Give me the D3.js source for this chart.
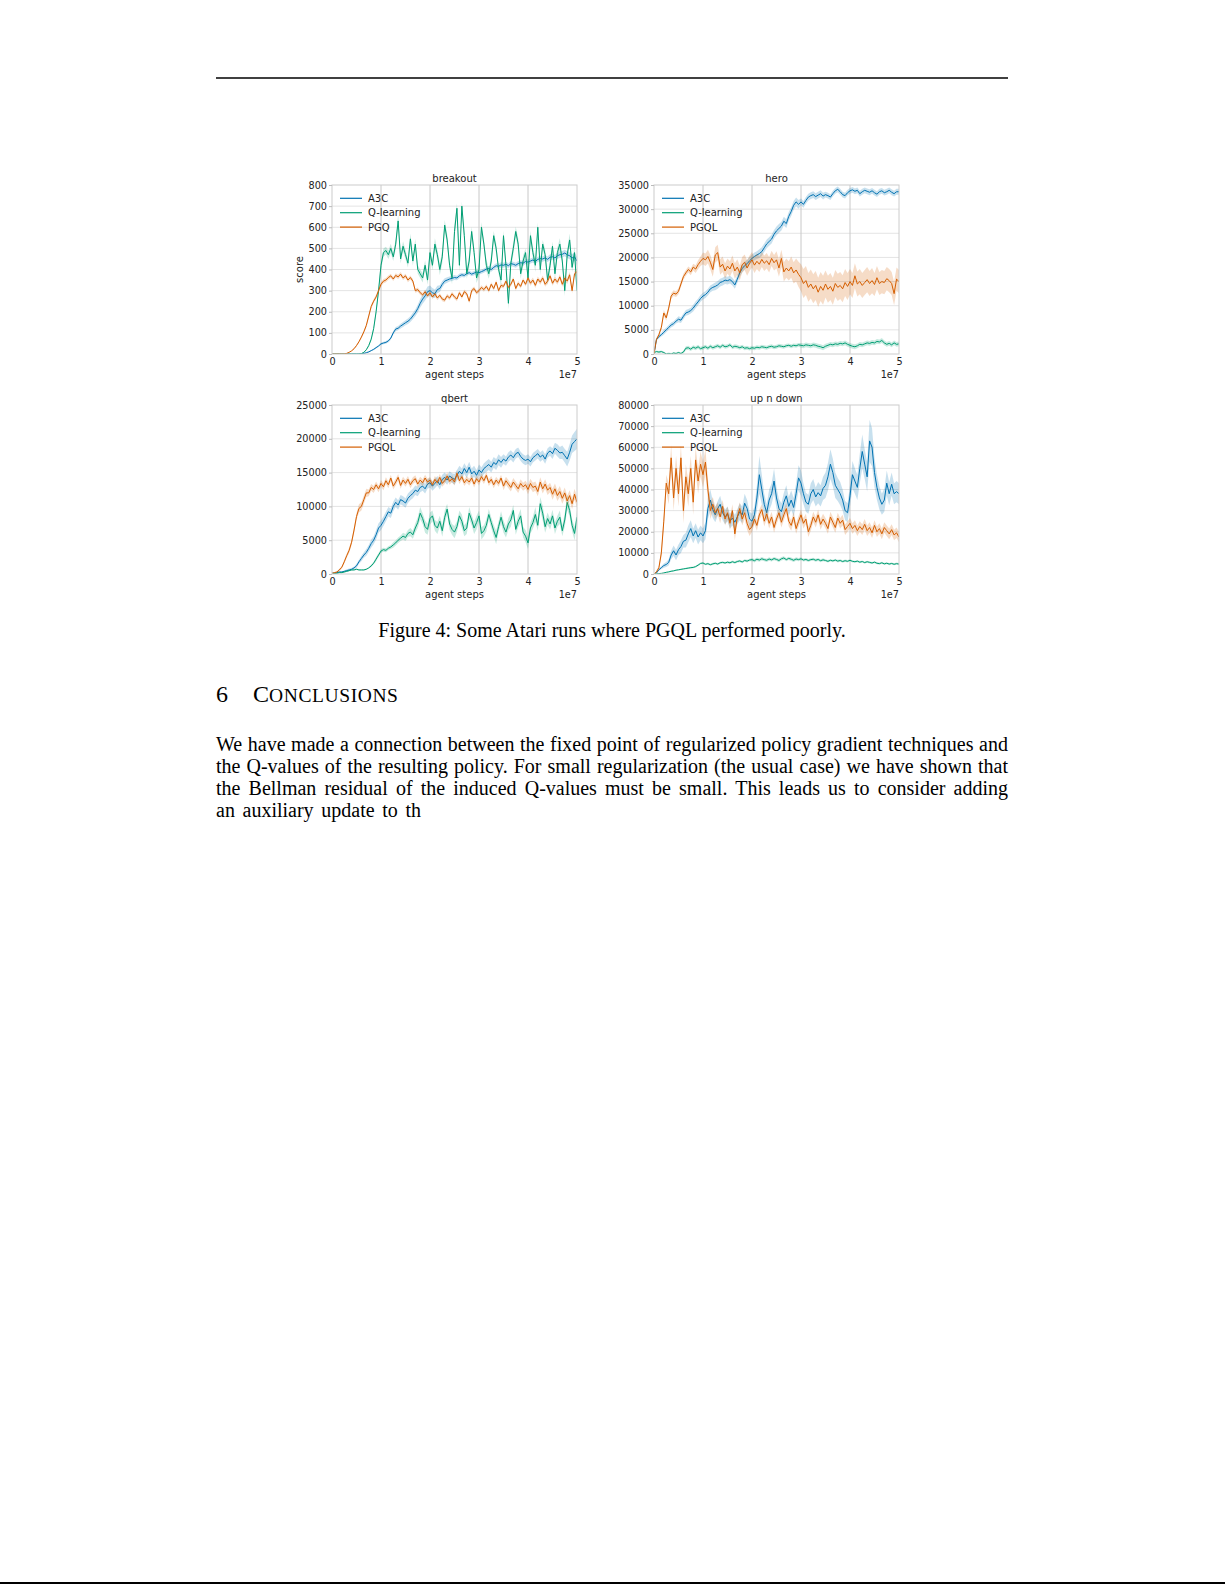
<!DOCTYPE html>
<html>
<head>
<meta charset="utf-8">
<script src="https://cdn.jsdelivr.net/npm/d3@7/dist/d3.min.js"></script>
<style>
  body { margin: 0; background: #fff; }
  #wrapper { width: 1225px; height: 1585px; }
</style>
</head>
<body>
<div id="wrapper"></div>
<script>
// agent steps in units of 1e7 (one sample every 5e5 steps)
const agentSteps = [
  0,0.05,0.1,0.15,0.2,0.25,0.3,0.35,0.4,0.45,
  0.5,0.55,0.6,0.65,0.7,0.75,0.8,0.85,0.9,0.95,
  1,1.05,1.1,1.15,1.2,1.25,1.3,1.35,1.4,1.45,
  1.5,1.55,1.6,1.65,1.7,1.75,1.8,1.85,1.9,1.95,
  2,2.05,2.1,2.15,2.2,2.25,2.3,2.35,2.4,2.45,
  2.5,2.55,2.6,2.65,2.7,2.75,2.8,2.85,2.9,2.95,
  3,3.05,3.1,3.15,3.2,3.25,3.3,3.35,3.4,3.45,
  3.5,3.55,3.6,3.65,3.7,3.75,3.8,3.85,3.9,3.95,
  4,4.05,4.1,4.15,4.2,4.25,4.3,4.35,4.4,4.45,
  4.5,4.55,4.6,4.65,4.7,4.75,4.8,4.85,4.9,4.95,
  5]
const xTicks = [0, 1, 2, 3, 4, 5]

// ---- breakout (score) ----
const breakoutTicks = [0,100,200,300,400,500,600,700,800]
const breakoutA3C = [
  0,0,0,0,0,0,0,0,0,0,
  0,0,1,3,6,10,16,22,30,38,
  48,52,55,62,75,100,118,122,132,140,
  148,155,165,180,195,215,240,260,275,295,
  300,290,285,305,310,330,345,350,355,358,
  362,360,370,375,372,380,385,378,383,388,
  385,390,395,402,405,400,410,418,415,422,
  420,425,418,428,425,420,428,432,430,438,
  435,440,445,438,448,452,450,455,448,458,
  460,455,465,470,472,478,470,465,455,460,
  440]
const breakoutA3CBand = [
  0,0,0,0,0,0,0,0,0,0,
  0,0,1,2,2,3,3,4,4,5,
  5,6,6,7,8,9,10,10,11,12,
  12,13,14,15,16,18,20,22,22,24,
  24,22,20,18,16,15,14,13,12,12,
  12,11,11,10,10,10,10,10,10,10,
  10,10,10,10,11,11,11,12,12,12,
  12,12,12,12,12,12,12,12,12,12,
  12,12,12,12,12,13,13,13,13,14,
  14,14,14,15,15,15,16,16,18,20,
  22]
const breakoutQ = [
  0,0,0,0,0,0,0,0,0,0,
  0,0,2,8,20,40,70,120,200,300,
  420,480,490,470,500,460,520,630,450,510,
  470,430,545,440,520,400,380,360,420,350,
  480,420,520,470,400,460,610,540,420,360,
  580,690,420,700,560,380,440,580,480,360,
  400,600,520,420,380,440,560,500,400,350,
  560,420,240,430,500,580,520,380,440,480,
  360,560,480,420,600,400,520,470,350,420,
  510,380,480,520,440,300,470,540,410,480,
  300]
const breakoutQBand = [
  0,0,0,0,0,0,0,0,0,0,
  0,0,1,2,4,6,8,10,14,18,
  22,20,18,20,22,20,24,30,22,24,
  22,20,26,22,24,20,20,22,24,22,
  26,24,28,24,26,32,24,28,22,30,
  36,24,38,22,30,24,30,22,26,24,
  32,24,22,28,24,30,22,26,20,30,
  24,20,28,24,30,22,28,24,26,20,
  30,24,26,32,22,28,20,26,24,28,
  22,26,24,28,20,26,24,30,22,28,
  26]
const breakoutPGQ = [
  0,0,0,0,0,0,3,8,15,25,
  40,58,80,105,135,180,225,250,270,300,
  330,345,350,362,370,355,372,365,378,360,
  370,350,362,345,300,305,290,280,295,275,
  290,270,285,265,278,260,255,275,265,285,
  270,260,290,270,295,285,250,300,310,290,
  300,315,305,320,300,330,310,340,300,325,
  320,345,315,330,355,310,335,320,350,330,
  360,335,350,325,355,340,360,330,345,370,
  335,355,340,365,330,360,345,375,300,380,
  390]
const breakoutPGQBand = [
  0,0,0,0,0,0,1,1,2,3,
  4,5,6,7,8,9,10,10,10,10,
  10,10,10,10,10,10,10,10,10,10,
  10,10,10,10,10,10,10,10,10,10,
  10,10,10,10,10,10,10,10,10,10,
  10,10,10,10,10,10,10,10,10,10,
  10,10,10,10,10,10,10,10,10,10,
  10,10,10,10,10,10,10,10,10,10,
  12,12,12,12,12,12,12,12,12,12,
  12,12,12,12,12,14,14,14,14,14,
  14]

// ---- hero (thousands) ----
const heroTicks = [0,5000,10000,15000,20000,25000,30000,35000]
const heroA3C = [
  0,3.0,3.6,4.0,4.5,5.0,5.5,6.0,6.3,6.8,
  7.2,7.0,7.8,8.5,8.7,9.0,9.5,10.2,10.8,11.5,
  12.0,12.3,12.8,13.5,13.8,14.0,14.3,14.8,15.0,15.3,
  15.2,15.4,15.0,14.3,15.5,16.8,17.7,18.3,18.7,19.3,
  19.8,20.2,20.5,20.8,21.2,22.0,22.8,23.3,23.8,24.8,
  25.5,26.0,26.5,27.5,27.0,28.5,29.5,30.8,31.5,31.0,
  31.5,31.0,31.8,32.5,32.8,33.0,32.6,32.9,33.2,32.7,
  33.0,32.8,32.5,33.2,33.8,34.1,33.6,33.0,32.8,33.4,
  33.8,34.0,33.7,33.9,33.2,33.6,33.9,33.7,33.5,33.8,
  33.4,33.1,33.6,33.8,33.4,33.6,33.9,33.5,33.2,33.6,
  33.6]
const heroA3CBand = [
  0,0.3,0.4,0.4,0.5,0.5,0.5,0.5,0.5,0.5,
  0.6,0.6,0.6,0.6,0.6,0.6,0.7,0.7,0.7,0.7,
  0.7,0.7,0.7,0.7,0.7,0.8,0.8,0.8,0.8,0.8,
  0.8,0.8,0.8,0.8,0.8,0.8,0.8,0.8,0.8,0.8,
  0.8,0.8,0.8,0.9,0.9,0.9,0.9,0.9,0.9,0.9,
  0.9,0.9,0.9,0.9,0.9,0.9,0.9,0.9,0.9,0.9,
  0.7,0.7,0.7,0.7,0.7,0.7,0.7,0.7,0.7,0.7,
  0.6,0.6,0.6,0.6,0.6,0.6,0.6,0.6,0.6,0.6,
  0.6,0.6,0.6,0.6,0.6,0.6,0.6,0.6,0.6,0.6,
  0.6,0.6,0.6,0.6,0.6,0.6,0.6,0.6,0.6,0.6,
  0.6]
const heroQ = [
  0.3,0.5,0.4,0.5,0.3,0.0,0.1,0.0,0.2,0.1,
  0.3,0.1,0.4,1.2,1.3,1.0,1.4,1.2,1.5,1.1,
  1.3,1.5,1.2,1.6,1.3,1.5,1.7,1.4,1.8,1.5,
  1.6,1.9,1.4,1.6,1.5,1.3,1.5,1.2,1.3,1.1,
  1.3,1.2,1.4,1.3,1.5,1.4,1.3,1.5,1.6,1.4,
  1.5,1.7,1.6,1.5,1.7,1.8,1.6,1.8,1.7,1.9,
  1.8,1.7,1.9,1.8,1.7,1.9,1.8,1.6,1.5,1.3,
  1.6,1.8,2.0,1.9,2.1,2.0,2.2,2.1,2.3,2.0,
  1.8,1.6,1.5,1.7,2.0,1.9,2.1,2.3,2.2,2.4,
  2.3,2.6,2.5,2.8,2.3,2.0,2.2,1.9,2.3,2.0,
  2.1]
const heroQBand = [
  0.1,0.2,0.2,0.2,0.2,0.2,0.2,0.2,0.2,0.2,
  0.2,0.2,0.3,0.4,0.4,0.4,0.4,0.4,0.4,0.4,
  0.4,0.4,0.4,0.4,0.4,0.4,0.4,0.4,0.4,0.4,
  0.4,0.4,0.4,0.4,0.4,0.4,0.4,0.4,0.4,0.4,
  0.4,0.4,0.4,0.4,0.4,0.4,0.4,0.4,0.4,0.4,
  0.4,0.4,0.4,0.4,0.4,0.4,0.4,0.4,0.4,0.4,
  0.5,0.5,0.5,0.5,0.5,0.5,0.5,0.5,0.5,0.5,
  0.5,0.5,0.5,0.5,0.5,0.5,0.5,0.5,0.5,0.5,
  0.5,0.5,0.5,0.5,0.5,0.5,0.5,0.5,0.5,0.5,
  0.5,0.5,0.5,0.5,0.5,0.5,0.5,0.5,0.5,0.5,
  0.5]
const heroPGQL = [
  0,3.0,4.0,5.5,8.5,7.5,9.5,12.0,12.6,12.4,
  13.0,14.5,16.0,16.8,17.5,17.0,18.0,17.6,18.5,19.2,
  19.8,19.5,20.2,19.0,17.5,20.5,21.0,18.0,18.6,17.2,
  18.2,17.6,18.8,17.2,18.0,16.8,18.5,19.0,17.8,18.8,
  19.5,18.4,19.2,18.6,19.6,18.8,19.3,18.5,19.8,18.9,
  19.5,17.8,19.8,17.0,17.8,17.2,18.0,16.8,17.4,16.5,
  15.8,14.6,15.2,13.8,14.5,13.5,14.2,12.8,14.0,13.2,
  14.5,13.4,14.0,13.0,14.6,13.8,14.2,13.5,14.8,14.0,
  15.0,14.2,16.2,14.5,15.0,14.2,14.8,15.4,14.6,15.2,
  14.4,15.8,14.6,15.0,14.8,15.6,15.2,14.6,12.5,15.5,
  15.0]
const heroPGQLBand = [
  0,0.3,0.4,0.5,0.6,0.6,0.6,0.6,0.6,0.6,
  0.6,0.6,0.6,0.6,0.6,0.7,0.7,0.8,0.9,1.0,
  1.2,1.3,1.4,1.5,1.5,1.6,1.6,1.6,1.6,1.6,
  1.6,1.6,1.6,1.6,1.6,1.6,1.6,1.6,1.6,1.6,
  1.6,1.6,1.6,1.6,1.6,1.6,1.6,1.6,1.6,1.6,
  1.8,1.8,1.8,2.0,2.0,2.0,2.2,2.2,2.4,2.6,
  2.8,3.0,3.0,3.0,3.0,3.0,3.0,3.0,3.0,3.0,
  2.8,2.8,2.8,2.8,2.8,2.8,2.8,2.8,2.8,2.8,
  2.6,2.6,2.6,2.6,2.6,2.6,2.6,2.6,2.6,2.6,
  2.4,2.4,2.4,2.4,2.4,2.4,2.4,2.4,2.4,2.4,
  2.4]

// ---- qbert (thousands) ----
const qbertTicks = [0,5000,10000,15000,20000,25000]
const qbertA3C = [
  0.1,0.1,0.2,0.3,0.3,0.4,0.5,0.6,0.7,0.9,
  1.2,1.8,2.3,2.8,3.2,3.8,4.5,5.0,5.8,6.8,
  7.2,7.8,8.5,9.2,9.0,10.0,10.6,10.2,11.0,10.8,
  10.5,11.2,11.6,11.9,12.4,12.2,12.8,13.0,12.6,13.3,
  13.5,13.0,13.4,13.8,13.2,14.0,14.3,13.9,14.5,14.2,
  14.0,14.6,15.2,14.8,15.6,15.0,15.8,14.8,15.2,14.6,
  15.4,15.0,15.6,15.9,16.2,15.8,16.5,16.2,16.9,16.5,
  17.0,16.7,17.3,17.6,17.2,17.8,18.0,17.4,17.0,16.8,
  17.0,16.6,17.2,17.5,17.8,17.3,17.6,17.0,17.9,18.2,
  17.8,18.6,18.3,17.9,18.0,17.5,17.0,18.0,19.2,19.6,
  20.0]
const qbertA3CBand = [
  0.1,0.1,0.1,0.1,0.1,0.1,0.2,0.2,0.2,0.2,
  0.3,0.3,0.4,0.4,0.5,0.5,0.6,0.6,0.7,0.7,
  0.7,0.7,0.7,0.7,0.7,0.7,0.7,0.7,0.7,0.7,
  0.7,0.7,0.7,0.7,0.7,0.7,0.7,0.7,0.7,0.7,
  0.7,0.7,0.7,0.7,0.7,0.7,0.7,0.7,0.7,0.7,
  0.8,0.8,0.8,0.8,0.8,0.8,0.8,0.8,0.8,0.8,
  0.8,0.8,0.8,0.8,0.8,0.8,0.8,0.8,0.8,0.8,
  0.7,0.7,0.7,0.7,0.7,0.7,0.7,0.7,0.7,0.7,
  0.7,0.7,0.7,0.7,0.7,0.7,0.7,0.7,0.7,0.7,
  0.8,0.8,0.9,0.9,1.0,1.0,1.1,1.2,1.3,1.4,
  1.5]
const qbertQ = [
  0.1,0.1,0.1,0.2,0.2,0.3,0.4,0.5,0.6,0.6,
  0.7,0.6,0.6,0.6,0.7,0.9,1.2,1.6,2.2,2.8,
  3.4,3.6,3.5,3.8,4.0,4.3,4.6,5.0,5.3,5.6,
  5.4,6.0,6.2,5.8,6.8,7.6,9.0,8.2,7.0,6.6,
  8.2,8.6,7.2,6.8,7.8,6.4,8.4,9.6,7.4,6.6,
  6.2,7.0,8.6,7.8,6.4,6.8,9.0,8.0,6.8,7.6,
  8.6,6.0,6.4,7.2,8.8,7.6,6.4,5.4,7.0,8.4,
  7.0,6.2,7.4,8.0,9.4,6.6,7.8,8.6,6.2,5.6,
  4.6,6.8,7.6,8.8,7.2,10.4,9.0,7.0,8.2,7.4,
  8.6,6.8,7.8,8.4,6.4,8.0,10.6,9.4,7.2,6.0,
  8.4]
const qbertQBand = [
  0.1,0.1,0.1,0.1,0.1,0.1,0.1,0.1,0.1,0.1,
  0.1,0.1,0.1,0.1,0.1,0.1,0.2,0.2,0.3,0.3,
  0.3,0.3,0.3,0.3,0.3,0.4,0.4,0.4,0.4,0.5,
  0.5,0.5,0.6,0.6,0.7,0.8,0.9,0.8,0.9,0.8,
  0.9,0.8,0.8,0.9,0.8,0.9,1.0,0.8,0.9,0.8,
  0.9,0.8,0.8,1.0,0.8,0.9,0.9,0.8,0.9,1.0,
  0.8,0.9,0.8,0.9,0.8,0.8,0.9,1.0,0.8,0.9,
  0.9,0.8,0.9,1.0,0.8,0.8,0.9,1.0,0.8,0.9,
  0.9,0.8,0.9,1.1,0.8,1.0,1.1,0.9,0.9,0.8,
  0.9,0.9,0.8,1.0,0.8,1.0,1.1,0.9,0.9,1.0,
  1.0]
const qbertPGQL = [
  0.1,0.2,0.3,0.6,1.0,1.8,2.7,3.5,4.7,6.5,
  8.5,9.7,10.0,11.0,12.0,12.0,12.8,12.5,13.2,12.6,
  13.4,12.9,13.8,13.2,14.2,13.0,13.6,14.3,13.1,13.9,
  13.4,14.0,13.2,13.8,14.1,13.3,13.9,13.5,14.2,13.6,
  13.9,13.2,14.0,13.5,14.3,13.4,13.8,14.5,13.7,14.1,
  13.6,14.9,13.8,14.4,13.5,14.0,13.6,14.2,13.3,14.1,
  13.6,14.4,13.8,14.6,13.5,14.0,13.2,13.9,13.4,14.2,
  13.0,13.8,13.3,12.8,13.6,13.1,12.6,13.4,12.9,13.2,
  12.5,13.4,12.8,13.0,12.2,13.6,12.6,13.3,12.4,12.8,
  11.8,12.6,11.6,12.2,11.2,12.0,10.8,11.6,10.4,11.8,
  10.6]
const qbertPGQLBand = [
  0.1,0.1,0.1,0.2,0.2,0.3,0.3,0.4,0.4,0.5,
  0.5,0.6,0.6,0.6,0.6,0.5,0.5,0.5,0.5,0.5,
  0.5,0.5,0.5,0.5,0.5,0.5,0.5,0.5,0.5,0.5,
  0.5,0.5,0.5,0.5,0.5,0.5,0.5,0.5,0.5,0.5,
  0.5,0.5,0.5,0.5,0.5,0.5,0.5,0.5,0.5,0.5,
  0.5,0.5,0.5,0.5,0.5,0.5,0.5,0.5,0.5,0.5,
  0.5,0.5,0.5,0.5,0.5,0.5,0.5,0.5,0.5,0.5,
  0.6,0.6,0.6,0.6,0.6,0.6,0.6,0.6,0.6,0.6,
  0.7,0.7,0.7,0.7,0.7,0.7,0.7,0.7,0.7,0.7,
  0.8,0.8,0.8,0.8,0.8,0.8,0.8,0.8,0.8,0.8,
  0.8]

// ---- up n down (thousands) ----
const updownTicks = [0,10000,20000,30000,40000,50000,60000,70000,80000]
const updownA3C = [
  0,0.5,2.0,3.0,4.0,4.5,5.5,9.0,11.0,9.0,
  11.5,13.0,15.5,16.0,19.0,21.5,18.0,20.5,17.5,19.5,
  18.0,20.5,31.0,35.0,30.5,28.0,31.0,33.0,29.0,27.0,
  28.5,25.0,26.5,24.5,27.0,29.5,28.0,33.5,31.0,26.0,
  25.0,28.0,36.0,47.0,40.0,33.0,29.0,35.0,38.0,44.0,
  36.0,31.0,29.5,34.0,37.0,32.0,35.0,31.5,38.0,45.5,
  43.0,38.0,34.0,33.0,38.0,40.0,36.5,38.5,37.0,40.5,
  42.0,46.0,52.0,48.0,42.0,40.0,38.0,35.0,30.0,29.0,
  37.0,47.0,44.0,41.0,50.0,58.0,52.0,46.0,63.0,60.0,
  48.0,41.0,36.0,33.0,35.0,43.0,38.0,42.5,38.0,39.0,
  38.0]
const updownA3CBand = [
  0,0.3,0.5,0.8,1.0,1.2,1.5,2.0,2.5,2.5,
  2.5,3.0,3.0,3.5,4.0,4.0,3.5,3.5,3.5,3.5,
  3.5,4.0,5.0,5.0,4.0,3.5,3.5,4.0,3.5,3.5,
  3.5,3.5,3.5,3.5,3.5,4.0,4.0,4.5,4.0,3.5,
  3.5,4.0,6.0,9.0,7.0,5.0,4.0,5.0,5.0,6.0,
  5.0,4.5,4.0,4.5,5.0,4.5,4.5,4.5,5.0,6.0,
  6.0,5.0,4.5,4.5,5.0,5.0,4.5,5.0,5.0,5.5,
  6.0,6.5,7.0,6.5,6.0,5.5,5.5,5.0,4.5,4.5,
  5.0,6.5,6.0,6.0,7.0,8.0,7.0,7.0,10.0,9.0,
  7.0,6.0,5.5,5.0,5.5,6.0,5.5,5.5,5.0,5.0,
  5.0]
const updownQ = [
  0,0.1,0.2,0.3,0.5,0.8,1.0,1.3,1.5,1.8,
  2.0,2.2,2.4,2.6,2.8,3.0,3.1,3.5,4.2,5.0,
  5.2,4.6,4.9,4.4,4.8,5.1,4.7,5.3,5.5,5.2,
  5.6,5.3,5.8,5.4,5.9,6.2,5.7,6.4,6.1,6.6,
  6.8,6.3,7.0,6.6,7.2,6.8,6.5,7.1,6.7,7.3,
  6.9,6.4,7.2,7.6,6.8,7.4,7.0,6.5,7.1,6.8,
  7.2,6.6,6.9,6.4,6.8,7.0,6.5,6.9,6.3,6.7,
  6.4,6.0,6.5,6.2,6.6,6.1,6.4,5.9,6.3,6.0,
  6.5,6.0,5.8,6.1,5.6,5.9,5.4,5.8,5.5,5.2,
  5.6,5.1,4.9,5.3,4.8,5.1,4.7,5.0,4.6,4.9,
  4.7]
const updownQBand = [
  0,0.1,0.1,0.1,0.2,0.2,0.2,0.3,0.3,0.3,
  0.3,0.3,0.3,0.4,0.4,0.4,0.4,0.4,0.5,0.5,
  0.5,0.5,0.5,0.5,0.5,0.5,0.5,0.5,0.5,0.5,
  0.6,0.6,0.6,0.6,0.6,0.6,0.6,0.6,0.6,0.6,
  0.8,0.8,0.8,0.8,0.8,0.8,0.8,0.8,0.8,0.8,
  0.8,0.8,0.8,0.8,0.8,0.8,0.8,0.8,0.8,0.8,
  0.7,0.7,0.7,0.7,0.7,0.7,0.7,0.7,0.7,0.7,
  0.6,0.6,0.6,0.6,0.6,0.6,0.6,0.6,0.6,0.6,
  0.5,0.5,0.5,0.5,0.5,0.5,0.5,0.5,0.5,0.5,
  0.5,0.5,0.5,0.5,0.5,0.5,0.5,0.5,0.5,0.5,
  0.5]
const updownPGQL = [
  0,1.0,3.0,10.0,25.0,43.0,38.0,55.0,36.0,50.0,
  38.0,55.0,30.0,46.0,38.0,50.0,34.0,54.0,44.0,52.0,
  47.0,53.0,40.0,30.0,33.0,29.0,31.0,27.0,32.0,26.0,
  29.0,24.0,30.0,19.0,27.0,31.0,26.0,29.0,24.0,21.0,
  22.5,26.0,23.0,28.0,30.5,25.0,28.5,24.0,27.0,22.0,
  26.0,29.0,24.5,28.0,31.0,25.0,23.0,27.0,21.5,25.0,
  28.0,24.0,26.0,20.0,23.0,27.0,24.5,28.0,23.5,26.0,
  24.0,21.5,27.0,24.5,22.0,26.5,24.0,25.5,21.0,22.5,
  24.0,21.5,23.0,20.5,22.5,21.0,23.5,20.5,22.0,19.5,
  23.0,20.0,21.5,19.0,22.0,20.5,19.0,21.0,18.5,19.5,
  17.5]
const updownPGQLBand = [
  0,0.5,1.0,2.0,3.0,4.0,5.0,6.0,6.0,6.0,
  6.0,6.0,6.0,6.0,6.0,6.0,6.0,6.0,6.0,6.0,
  6.0,6.0,5.0,4.0,3.5,3.0,3.0,3.0,3.0,3.0,
  3.0,3.0,3.0,3.0,3.0,3.0,3.0,3.0,3.0,3.0,
  2.5,2.5,2.5,2.5,2.5,2.5,2.5,2.5,2.5,2.5,
  2.5,2.5,2.5,2.5,2.5,2.5,2.5,2.5,2.5,2.5,
  2.5,2.5,2.5,2.5,2.5,2.5,2.5,2.5,2.5,2.5,
  2.5,2.5,2.5,2.5,2.5,2.5,2.5,2.5,2.5,2.5,
  2.5,2.5,2.5,2.5,2.5,2.5,2.5,2.5,2.5,2.5,
  2.5,2.5,2.5,2.5,2.5,2.5,2.5,2.5,2.5,2.5,
  2.5]

const paperLines = [
  "We have made a connection between the fixed point of regularized policy gradient techniques and",
  "the Q-values of the resulting policy.  For small regularization (the usual case) we have shown that",
  "the Bellman residual of the induced Q-values must be small.  This leads us to consider adding",
  "an auxiliary update to th"
]

// ---- layout ----
const colorOf = { "A3C": "#0072B2", "Q-learning": "#009E73", "PGQ": "#D55E00", "PGQL": "#D55E00" }
const panels = [
  { title: "breakout", left: 332, top: 185, unit: 1, yTicks: breakoutTicks, ylabel: "score",
    series: [["A3C", breakoutA3C, breakoutA3CBand], ["Q-learning", breakoutQ, breakoutQBand], ["PGQ", breakoutPGQ, breakoutPGQBand]] },
  { title: "hero", left: 654, top: 185, unit: 1000, yTicks: heroTicks,
    series: [["A3C", heroA3C, heroA3CBand], ["Q-learning", heroQ, heroQBand], ["PGQL", heroPGQL, heroPGQLBand]] },
  { title: "qbert", left: 332, top: 405, unit: 1000, yTicks: qbertTicks,
    series: [["A3C", qbertA3C, qbertA3CBand], ["Q-learning", qbertQ, qbertQBand], ["PGQL", qbertPGQL, qbertPGQLBand]] },
  { title: "up n down", left: 654, top: 405, unit: 1000, yTicks: updownTicks,
    series: [["A3C", updownA3C, updownA3CBand], ["Q-learning", updownQ, updownQBand], ["PGQL", updownPGQL, updownPGQLBand]] },
]

const wrapper = d3.select("#wrapper")
  .html("")
  .append("svg")
  .attr("width", 1225)
  .attr("height", 1585)
  .style("font-family", "'DejaVu Sans', sans-serif")

function drawPanel(p, k) {
  const dimensions = { width: 245, height: 169 }

  const bounds = wrapper.append("g")
    .attr("transform", `translate(${p.left},${p.top})`)

  const xScaler = d3.scaleLinear()
    .domain([0, 5])
    .range([0, dimensions.width])
  const yScaler = d3.scaleLinear()
    .domain([0, d3.max(p.yTicks)])
    .range([dimensions.height, 0])

  // grid
  bounds.append("g").selectAll("line")
    .data(p.yTicks.slice(1, -1))
    .enter().append("line")
    .attr("x1", 0).attr("x2", dimensions.width)
    .attr("y1", d => yScaler(d)).attr("y2", d => yScaler(d))
    .attr("stroke", "#e4e4e4").attr("stroke-width", 1)
  bounds.append("g").selectAll("line")
    .data(xTicks.slice(1, -1))
    .enter().append("line")
    .attr("x1", d => xScaler(d)).attr("x2", d => xScaler(d))
    .attr("y1", 0).attr("y2", dimensions.height)
    .attr("stroke", "#c8c8c8").attr("stroke-width", 1)

  const clipId = "clip" + k
  bounds.append("clipPath").attr("id", clipId)
    .append("rect").attr("width", dimensions.width).attr("height", dimensions.height)

  const plot = bounds.append("g").attr("clip-path", `url(#${clipId})`)

  p.series.forEach(([name, values, band]) => {
    const pts = agentSteps.map((x, i) => ({ x: x, y: values[i] * p.unit, b: band[i] * p.unit }))
    const area = d3.area()
      .x(d => xScaler(d.x))
      .y0(d => yScaler(Math.max(0, d.y - d.b)))
      .y1(d => yScaler(d.y + d.b))
    const line = d3.line()
      .x(d => xScaler(d.x))
      .y(d => yScaler(d.y))
    plot.append("path").datum(pts)
      .attr("d", area)
      .attr("fill", colorOf[name])
      .attr("fill-opacity", 0.22)
    plot.append("path").datum(pts)
      .attr("d", line)
      .attr("fill", "none")
      .attr("stroke", colorOf[name])
      .attr("stroke-width", 1)
      .attr("stroke-linejoin", "round")
  })

  // frame
  bounds.append("rect")
    .attr("width", dimensions.width).attr("height", dimensions.height)
    .attr("fill", "none").attr("stroke", "#cccccc").attr("stroke-width", 1)

  // axes
  const xAxis = bounds.append("g")
    .attr("transform", `translate(0,${dimensions.height})`)
    .call(d3.axisBottom(xScaler).tickValues(xTicks).tickSize(0).tickPadding(4).tickFormat(d3.format("d")))
  const yAxis = bounds.append("g")
    .call(d3.axisLeft(yScaler).tickValues(p.yTicks).tickSize(3).tickPadding(2).tickFormat(d3.format("d")))
  ;[xAxis, yAxis].forEach(ax => {
    ax.select(".domain").remove()
    ax.selectAll("line").attr("stroke", "#bbbbbb")
    ax.selectAll("text")
      .attr("fill", "#222")
      .attr("font-size", "9.7px")
      .attr("font-family", "'DejaVu Sans', sans-serif")
  })

  bounds.append("text")
    .attr("x", dimensions.width / 2).attr("y", -3)
    .attr("text-anchor", "middle")
    .attr("font-size", "10px").attr("fill", "#222")
    .text(p.title)

  bounds.append("text")
    .attr("x", dimensions.width / 2).attr("y", dimensions.height + 23.5)
    .attr("text-anchor", "middle")
    .attr("font-size", "10px").attr("fill", "#222")
    .text("agent steps")

  bounds.append("text")
    .attr("x", dimensions.width).attr("y", dimensions.height + 23.5)
    .attr("text-anchor", "end")
    .attr("font-size", "9.7px").attr("fill", "#222")
    .text("1e7")

  if (p.ylabel) {
    bounds.append("text")
      .attr("transform", `translate(-29,${dimensions.height / 2}) rotate(-90)`)
      .attr("text-anchor", "middle")
      .attr("font-size", "10px").attr("fill", "#222")
      .text(p.ylabel)
  }

  // legend
  const legend = bounds.append("g").selectAll("g")
    .data(p.series)
    .enter().append("g")
    .attr("transform", (d, i) => `translate(0,${13.3 + i * 14.4})`)
  legend.append("line")
    .attr("x1", 8).attr("x2", 30)
    .attr("stroke", d => colorOf[d[0]]).attr("stroke-width", 1.2)
  legend.append("text")
    .attr("x", 36).attr("y", 3.6)
    .attr("font-size", "10px").attr("fill", "#222")
    .text(d => d[0])
}

panels.forEach(drawPanel)

// ---- page text ----
const serif = "'Liberation Serif', 'Times New Roman', serif"
wrapper.append("line")
  .attr("x1", 216).attr("x2", 1008).attr("y1", 78).attr("y2", 78)
  .attr("stroke", "#000").attr("stroke-width", 1.5)

wrapper.append("text")
  .attr("x", 612).attr("y", 637)
  .attr("text-anchor", "middle")
  .attr("font-family", serif).attr("font-size", "20px")
  .text("Figure 4: Some Atari runs where PGQL performed poorly.")

const heading = wrapper.append("text")
  .attr("y", 702)
  .attr("font-family", serif)
heading.append("tspan").attr("x", 216).attr("font-size", "24px").text("6")
heading.append("tspan").attr("x", 253).attr("font-size", "24px").text("C")
heading.append("tspan").attr("font-size", "19.5px").attr("letter-spacing", "0.6px").text("ONCLUSIONS")

paperLines.forEach((t, i) => {
  const txt = wrapper.append("text")
    .attr("x", 216).attr("y", 751 + i * 22)
    .attr("font-family", serif).attr("font-size", "20px")
    .text(t.replace(/  /g, " "))
  const target = i < 3 ? 792 : 205
  const natural = txt.node().getComputedTextLength()
  const spaces = (t.replace(/  /g, " ").match(/ /g) || []).length
  txt.attr("word-spacing", ((target - natural) / spaces).toFixed(3) + "px")
})

wrapper.append("line")
  .attr("x1", 0).attr("x2", 1225).attr("y1", 1583).attr("y2", 1583)
  .attr("stroke", "#000").attr("stroke-width", 2)
</script>
</body>
</html>
